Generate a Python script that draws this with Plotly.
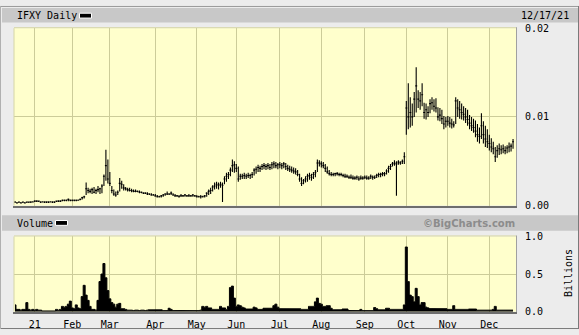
import plotly.graph_objects as go

# ---------------- data ----------------
# trading-day index of the first session of each month, and their labels
month_idx = [10, 29, 48, 71, 92, 112, 134, 155, 177, 198, 219, 240]
month_lbl = ["21", "Feb", "Mar", "Apr", "May", "Jun", "Jul", "Aug", "Sep", "Oct", "Nov", "Dec"]

# daily prices in units of 0.0001 USD (Dec 17 2020 .. Dec 17 2021)
high_e4 = [
    5, 4, 4, 4, 4, 4, 4, 4, 5, 5,
    6, 6, 5, 5, 5, 5, 5, 5, 5, 5, 5, 5, 6, 6, 7, 7, 7, 8, 7,
    7, 7, 7, 7, 8, 10, 11, 26, 20, 19, 20, 21, 19, 22, 20, 24, 35, 63, 52,
    38, 22, 18, 16, 17, 31, 28, 24, 21, 20, 20, 19, 18, 18, 17, 17, 16, 15, 15, 15, 14, 14, 13,
    13, 12, 11, 12, 13, 14, 16, 14, 16, 14, 13, 12, 12, 13, 12, 13, 12, 13, 12, 13, 12,
    12, 11, 12, 11, 12, 15, 18, 20, 23, 26, 27, 26, 27, 26, 33, 37, 38, 43, 52, 50,
    47, 44, 36, 36, 37, 36, 37, 36, 38, 42, 44, 46, 45, 47, 48, 47, 48, 47, 49, 50, 49, 48,
    49, 48, 49, 48, 46, 45, 44, 43, 42, 40, 36, 32, 30, 33, 36, 37, 36, 38, 40, 52, 51,
    50, 49, 47, 44, 40, 38, 37, 37, 38, 37, 37, 36, 36, 35, 34, 35, 34, 33, 34, 33, 34, 33,
    34, 34, 33, 35, 34, 34, 36, 37, 37, 38, 38, 41, 45, 47, 49, 51, 50, 51, 50, 52, 60,
    118, 138, 122, 115, 128, 156, 130, 128, 138, 116, 115, 112, 120, 122, 120, 121, 111, 110, 108, 101, 100,
    101, 100, 98, 95, 122, 120, 118, 115, 112, 110, 108, 102, 100, 98, 96, 92, 88, 104, 95, 90, 86,
    80, 76, 72, 66, 68, 70, 68, 69, 67, 68, 71, 70, 75,
]
low_e4 = [
    3, 3, 3, 3, 3, 3, 3, 3, 3, 4,
    4, 4, 4, 3, 4, 3, 3, 3, 4, 3, 3, 4, 4, 4, 5, 5, 5, 5, 5,
    5, 5, 5, 6, 6, 7, 8, 12, 14, 14, 13, 14, 13, 15, 13, 14, 22, 28, 25,
    22, 14, 11, 10, 12, 16, 19, 17, 17, 16, 16, 15, 15, 15, 15, 14, 14, 13, 13, 12, 12, 11, 11,
    10, 9, 9, 9, 10, 11, 12, 12, 12, 11, 10, 10, 9, 10, 10, 10, 10, 10, 10, 10, 10,
    9, 9, 8, 9, 9, 10, 12, 13, 16, 18, 19, 18, 20, 4, 24, 27, 30, 33, 38, 37,
    38, 27, 29, 30, 30, 30, 31, 30, 31, 34, 36, 38, 38, 40, 41, 40, 41, 40, 41, 42, 42, 41,
    42, 41, 42, 40, 39, 38, 37, 36, 35, 33, 27, 22, 24, 26, 27, 29, 28, 30, 32, 38, 44,
    43, 42, 38, 36, 34, 33, 33, 33, 34, 33, 33, 32, 31, 31, 30, 30, 29, 29, 29, 28, 29, 29,
    30, 29, 29, 30, 29, 30, 31, 32, 32, 33, 33, 35, 37, 40, 44, 45, 11, 46, 46, 47, 47,
    80, 86, 88, 90, 100, 105, 110, 108, 112, 98, 97, 100, 104, 108, 106, 105, 96, 95, 92, 86, 88,
    90, 88, 87, 88, 92, 100, 98, 97, 96, 93, 90, 86, 84, 82, 77, 72, 70, 75, 70, 66, 65,
    62, 60, 58, 49, 54, 57, 58, 59, 58, 59, 60, 61, 64,
]
close_e4 = [
    4, 3, 4, 3, 4, 3, 4, 4, 4, 4,
    5, 5, 5, 4, 4, 4, 4, 4, 4, 4, 4, 5, 5, 5, 6, 6, 6, 7, 6,
    6, 6, 6, 6, 7, 9, 10, 19, 17, 16, 18, 15, 17, 18, 19, 22, 33, 45, 30,
    25, 17, 13, 12, 15, 25, 24, 20, 19, 18, 17, 17, 16, 16, 16, 15, 15, 14, 14, 13, 13, 12, 12,
    11, 10, 10, 11, 12, 13, 13, 13, 14, 12, 11, 11, 10, 11, 11, 12, 11, 11, 11, 12, 11,
    10, 10, 10, 10, 11, 14, 16, 17, 21, 22, 24, 23, 24, 23, 30, 33, 35, 40, 45, 46,
    42, 30, 33, 33, 34, 33, 34, 34, 35, 40, 41, 43, 42, 44, 45, 44, 45, 43, 46, 47, 45, 46,
    46, 45, 47, 44, 42, 41, 40, 39, 38, 35, 30, 25, 28, 30, 33, 34, 32, 35, 37, 48, 48,
    47, 45, 42, 38, 36, 35, 35, 36, 36, 35, 35, 34, 33, 33, 32, 32, 31, 31, 32, 30, 31, 31,
    32, 31, 31, 33, 32, 32, 34, 35, 35, 36, 36, 39, 42, 44, 47, 48, 47, 49, 48, 50, 55,
    110, 100, 105, 100, 120, 135, 120, 118, 125, 105, 108, 105, 115, 116, 112, 110, 100, 102, 98, 92, 95,
    95, 93, 92, 91, 118, 110, 108, 105, 103, 100, 97, 93, 90, 88, 84, 80, 78, 90, 80, 75, 72,
    70, 66, 64, 55, 62, 64, 63, 64, 62, 65, 66, 67, 72,
]
# daily volume in billions of shares
volume_bn = [
    0.09, 0.03, 0.03, 0.02, 0.03, 0.03, 0.12, 0.03, 0.02, 0.03,
    0.02, 0.03, 0.02, 0.02, 0.01, 0.01, 0.01, 0.01, 0.01, 0.01, 0.01, 0.03, 0.02, 0.03, 0.07, 0.06, 0.07, 0.10, 0.14,
    0.05, 0.04, 0.09, 0.05, 0.04, 0.20, 0.35, 0.22, 0.15, 0.07, 0.03, 0.03, 0.02, 0.15, 0.40, 0.50, 0.64, 0.45, 0.28,
    0.17, 0.12, 0.10, 0.06, 0.10, 0.11, 0.04, 0.04, 0.03, 0.02, 0.02, 0.02, 0.015, 0.02, 0.02, 0.015, 0.02, 0.02, 0.015, 0.02, 0.025, 0.025, 0.025,
    0.025, 0.025, 0.025, 0.025, 0.015, 0.015, 0.015, 0.045, 0.03, 0.015, 0.015, 0.015, 0.015, 0.015, 0.015, 0.015, 0.015, 0.015, 0.015, 0.015, 0.015,
    0.015, 0.015, 0.02, 0.07, 0.06, 0.07, 0.05, 0.05, 0.03, 0.03, 0.03, 0.03, 0.07, 0.05, 0.05, 0.03, 0.07, 0.32, 0.34, 0.18,
    0.07, 0.09, 0.08, 0.06, 0.05, 0.035, 0.035, 0.035, 0.035, 0.06, 0.05, 0.03, 0.03, 0.03, 0.045, 0.045, 0.045, 0.045, 0.045, 0.08, 0.10, 0.06,
    0.04, 0.04, 0.04, 0.04, 0.04, 0.04, 0.04, 0.04, 0.04, 0.04, 0.04, 0.03, 0.03, 0.03, 0.03, 0.07, 0.07, 0.07, 0.13, 0.18, 0.11,
    0.10, 0.07, 0.07, 0.08, 0.08, 0.045, 0.025, 0.025, 0.025, 0.025, 0.025, 0.035, 0.035, 0.035, 0.015, 0.015, 0.015, 0.015, 0.015, 0.015, 0.03, 0.015,
    0.015, 0.015, 0.015, 0.015, 0.015, 0.055, 0.04, 0.025, 0.025, 0.025, 0.025, 0.045, 0.045, 0.03, 0.03, 0.03, 0.03, 0.03, 0.03, 0.03, 0.09,
    0.86, 0.40, 0.22, 0.20, 0.13, 0.31, 0.20, 0.09, 0.12, 0.12, 0.06, 0.05, 0.04, 0.04, 0.04, 0.04, 0.04, 0.04, 0.04, 0.04, 0.04,
    0.03, 0.03, 0.03, 0.08, 0.03, 0.03, 0.03, 0.03, 0.03, 0.03, 0.03, 0.035, 0.035, 0.035, 0.035, 0.02, 0.02, 0.02, 0.02, 0.02, 0.02,
    0.02, 0.02, 0.03, 0.07, 0.02, 0.02, 0.02, 0.02, 0.02, 0.02, 0.02, 0.02, 0.02,
]
price_ticks = [0.0, 0.01, 0.02]
price_tick_text = ["0.00", "0.01", "0.02"]
vol_ticks = [0.0, 0.5, 1.0]
vol_tick_text = ["0.0", "0.5", "1.0"]

assert len(high_e4) == len(low_e4) == len(close_e4) == len(volume_bn) == 253

# ---------------- figure ----------------
W, H = 579, 335
def px(x):
    return x / W
def py(y):
    return 1 - y / H

x = list(range(len(close_e4)))
high = [v * 1e-4 for v in high_e4]
low = [v * 1e-4 for v in low_e4]
close = [v * 1e-4 for v in close_e4]

MONO = "DejaVu Sans Mono"
GRID = "#cccc99"

fig = go.Figure()
fig.add_trace(go.Ohlc(
    x=x, open=close, high=high, low=low, close=close,
    increasing=dict(line=dict(color="black", width=1.1)),
    decreasing=dict(line=dict(color="black", width=1.1)),
    tickwidth=0.5, xaxis="x", yaxis="y", showlegend=False, hoverinfo="skip",
))
fig.add_trace(go.Scatter(
    x=x, y=volume_bn, mode="lines", line=dict(color="black", width=1, shape="hvh"),
    fill="tozeroy", fillcolor="black",
    xaxis="x2", yaxis="y2", showlegend=False, hoverinfo="skip",
))

xdom = [px(14), px(516)]
common_x = dict(domain=xdom, range=[-0.5, 253.5], tickvals=month_idx, showgrid=True,
                gridcolor=GRID, gridwidth=1, zeroline=False, showline=False, ticks="",
                fixedrange=True)
fig.update_layout(
    width=W, height=H, margin=dict(l=0, r=0, t=0, b=0),
    paper_bgcolor="#ececec", plot_bgcolor="#ffffcc",
    showlegend=False,
    font=dict(family=MONO, size=10, color="black"),
    xaxis=dict(**common_x, anchor="y", showticklabels=False, rangeslider=dict(visible=False)),
    xaxis2=dict(**common_x, anchor="y2", matches="x", ticktext=month_lbl, showticklabels=True,
                ticklabelstandoff=5,
                tickfont=dict(family=MONO, size=10, color="black")),
    yaxis=dict(domain=[py(207), py(23)], range=[0, 0.02], side="right", anchor="x",
               tickvals=price_ticks, ticktext=price_tick_text, showgrid=True, gridcolor=GRID,
               zeroline=False, ticks="", ticklabelstandoff=8,
               tickfont=dict(family=MONO, size=10, color="black")),
    yaxis2=dict(domain=[py(317), py(239)], range=[0, 1.0], side="right", anchor="x2",
                tickvals=vol_ticks, ticktext=vol_tick_text, showgrid=True, gridcolor=GRID,
                zeroline=False, ticks="", ticklabelstandoff=8,
                tickfont=dict(family=MONO, size=10, color="black")),
)

shapes = []
def rect(x0, y0, x1, y1, fill, line_color=None, lw=0, layer="above"):
    shapes.append(dict(type="rect", xref="paper", yref="paper",
                       x0=px(x0), x1=px(x1), y0=py(y1), y1=py(y0),
                       fillcolor=fill, line=dict(color=line_color or fill, width=lw), layer=layer))
def hline(x0, x1, y, color, w):
    shapes.append(dict(type="line", xref="paper", yref="paper", x0=px(x0), x1=px(x1),
                       y0=py(y), y1=py(y), line=dict(color=color, width=w), layer="above"))
def vline(x, y0, y1, color, w):
    shapes.append(dict(type="line", xref="paper", yref="paper", x0=px(x), x1=px(x),
                       y0=py(y0), y1=py(y1), line=dict(color=color, width=w), layer="above"))

# header bands
rect(2, 2, 579, 17, "#c8c8c8", layer="below")
rect(2, 217, 579, 233, "#c8c8c8", layer="below")
# legend swatches
rect(79.5, 7.5, 91.5, 12.5, "black", "white", 1)
rect(55.5, 222.5, 67.5, 227.5, "black", "white", 1)
# plot frames
for top, bot in [(23, 207), (239, 317)]:
    hline(14, 516, top - 0.5, "#d6d6a6", 1)
    vline(14, top, bot, "#d6d6a6", 1)
    vline(516.5, top - 1, bot + 2, "#a0a0a0", 1)
    hline(13, 517, bot + 1.5, "#6e6e6e", 2)
# outer border
hline(0, 579, 0.5, "#9a9a9a", 1)
hline(0, 579, 334.5, "#7a7a7a", 1)
vline(578.5, 0, 335, "#7a7a7a", 1)
vline(0.5, 0, 335, "#b0b0b0", 1)
fig.update_layout(shapes=shapes)

ann = [
    dict(text="IFXY Daily", x=px(15), y=py(9.5), xanchor="left", yanchor="middle"),
    dict(text="12/17/21", x=px(571), y=py(9.5), xanchor="right", yanchor="middle"),
    dict(text="Volume", x=px(15), y=py(225.5), xanchor="left", yanchor="middle"),
    dict(text="<b>©BigCharts.com</b>", x=px(517), y=py(225.5), xanchor="right", yanchor="middle",
         font=dict(family="DejaVu Sans", size=10, color="#8c8c8c")),
    dict(text="Billions", x=px(568), y=py(277), xanchor="center", yanchor="middle", textangle=-90),
]
for a in ann:
    a.setdefault("font", dict(family=MONO, size=10, color="black"))
    a.update(xref="paper", yref="paper", showarrow=False)
fig.update_layout(annotations=ann)

fig.write_html("out.html")
